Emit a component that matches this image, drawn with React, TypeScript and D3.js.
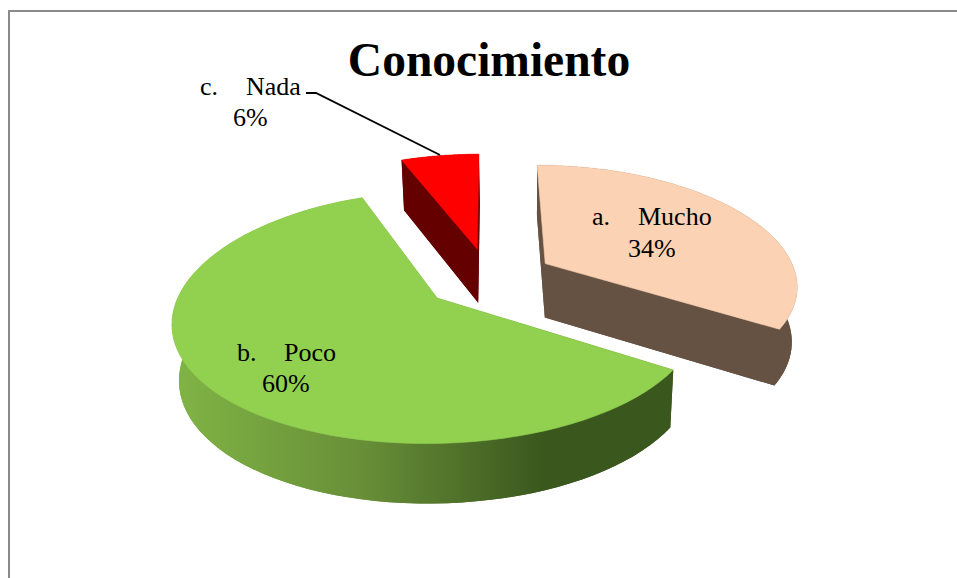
import React from "react";
import * as d3 from "d3";

const categories = ["a.", "b.", "c."];
const names = ["Mucho", "Poco", "Nada"];
const percents = [34, 60, 6];
const topColors = ["#fbd2b3", "#92d050", "#ff0000"];
const sideColors = ["#655243", "url(#greenSide)", "#650000"];
const chartTitle = "Conocimiento";

const W = 957, H = 578;
const CX = 489, CY = 278, R = 252, K = 0.465, PX = 0.17, PY = 0.15, EXPLODE = 0.26, DEPTH = 54.5;
const SHRINK = 0.02, SHRINK_X0 = 525;

type Pt = [number, number];
const sx = (y: number) => 1 / (1 - PX * y);
const sy = (y: number) => 1 / (1 - PY * y);
const top = (x: number, y: number): Pt => [CX + x * R * sx(y), CY + y * R * K * sy(y)];
const bottom = (x: number, y: number): Pt => {
  const [tx, ty] = top(x, y);
  return [tx - SHRINK * (tx - SHRINK_X0), ty + DEPTH * Math.sqrt(sy(y))];
};
const line = d3.line<Pt>();
const slices = d3.pie<number>().sort(null).startAngle(0).endAngle(2 * Math.PI)(percents);

function sliceGeometry(a0: number, a1: number) {
  const mid = (a0 + a1) / 2;
  const ox = Math.sin(mid) * EXPLODE, oy = -Math.cos(mid) * EXPLODE;
  const angles = d3.range(0, 81).map((i) => a0 + ((a1 - a0) * i) / 80);
  const rim = angles.map((a): Pt => [ox + Math.sin(a), oy - Math.cos(a)]);
  const T = (p: Pt) => top(p[0], p[1]);
  const B = (p: Pt) => bottom(p[0], p[1]);
  const apex: Pt = [ox, oy];
  const close = (pts: Pt[]) => line(pts) + "Z";
  return {
    topFace: close([T(apex), ...rim.map(T)]),
    bottomFace: close([B(apex), ...rim.map(B)]),
    wall0: close([T(apex), T(rim[0]), B(rim[0]), B(apex)]),
    wall1: close([T(apex), T(rim[80]), B(rim[80]), B(apex)]),
    arcWall: close([...rim.map(T), ...rim.map(B).reverse()]),
  };
}

const serif = "'Liberation Serif', 'Times New Roman', serif";
const labelPos = [
  { mx: 592, nx: 638, y1: 225, px: 628, y2: 257 },
  { mx: 237, nx: 284, y1: 361, px: 262, y2: 392 },
  { mx: 200, nx: 246, y1: 95, px: 233, y2: 126 },
];

export default function App() {
  return (
    <svg width={W} height={H} style={{ position: "absolute", left: 0, top: 0 }}>
      <defs>
        <linearGradient id="greenSide" gradientUnits="userSpaceOnUse" x1={178} x2={545} y1={0} y2={0}>
          <stop offset="0" stopColor="#80b345" />
          <stop offset="0.5" stopColor="#688f38" />
          <stop offset="1" stopColor="#3a571d" />
        </linearGradient>
      </defs>
      <rect width={W} height={H} fill="#fff" />
      <path d="M9,578V11H957" fill="none" stroke="#8a8a8a" strokeWidth={2} />
      {slices.map((s, i) => {
        const g = sliceGeometry(s.startAngle, s.endAngle);
        return (
          <g key={categories[i]}>
            <path d={g.bottomFace} fill={sideColors[i]} />
            <path d={g.wall0} fill={sideColors[i]} />
            <path d={g.wall1} fill={sideColors[i]} />
            <path d={g.arcWall} fill={sideColors[i]} />
            <path d={g.topFace} fill={topColors[i]} stroke={topColors[i]} strokeWidth={0.6} />
          </g>
        );
      })}
      <path d="M306,93H316L440,155" fill="none" stroke="#000" strokeWidth={1.8} />
      <text x={489} y={76} textAnchor="middle" fontFamily={serif} fontWeight="bold" fontSize={47.5}>{chartTitle}</text>
      {categories.map((c, i) => (
        <g key={c} fontFamily={serif} fontSize={26} fill="#000">
          <text x={labelPos[i].mx} y={labelPos[i].y1}>{c}</text>
          <text x={labelPos[i].nx} y={labelPos[i].y1}>{names[i]}</text>
          <text x={labelPos[i].px} y={labelPos[i].y2}>{percents[i]}%</text>
        </g>
      ))}
    </svg>
  );
}
